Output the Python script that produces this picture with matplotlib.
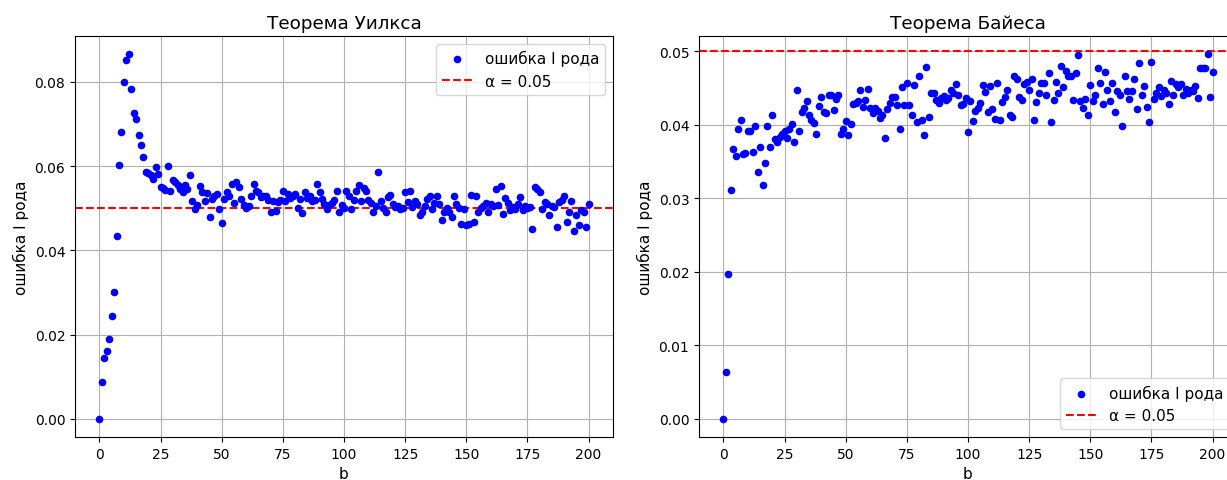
import numpy as np
import matplotlib
matplotlib.use("Agg")
import matplotlib.pyplot as plt

b_values = list(range(0, 201))

wilks_error = [
    0.0000, 0.0087, 0.0144, 0.0160, 0.0190, 0.0243, 0.0301, 0.0433, 0.0603, 0.0680,
    0.0799, 0.0851, 0.0866, 0.0783, 0.0726, 0.0713, 0.0673, 0.0649, 0.0621, 0.0587,
    0.0584, 0.0578, 0.0570, 0.0597, 0.0581, 0.0550, 0.0548, 0.0544, 0.0601, 0.0540,
    0.0566, 0.0562, 0.0556, 0.0546, 0.0538, 0.0555, 0.0545, 0.0579, 0.0518, 0.0497,
    0.0508, 0.0552, 0.0538, 0.0516, 0.0536, 0.0479, 0.0522, 0.0530, 0.0534, 0.0497,
    0.0465, 0.0522, 0.0538, 0.0530, 0.0558, 0.0513, 0.0563, 0.0550, 0.0521, 0.0508,
    0.0500, 0.0505, 0.0530, 0.0558, 0.0542, 0.0538, 0.0526, 0.0529, 0.0530, 0.0520,
    0.0492, 0.0518, 0.0494, 0.0514, 0.0520, 0.0542, 0.0516, 0.0534, 0.0525, 0.0530,
    0.0534, 0.0500, 0.0522, 0.0489, 0.0538, 0.0525, 0.0530, 0.0516, 0.0520, 0.0558,
    0.0538, 0.0522, 0.0510, 0.0498, 0.0508, 0.0512, 0.0520, 0.0540, 0.0492, 0.0508,
    0.0500, 0.0540, 0.0530, 0.0498, 0.0520, 0.0542, 0.0555, 0.0516, 0.0547, 0.0542,
    0.0520, 0.0513, 0.0490, 0.0505, 0.0587, 0.0516, 0.0500, 0.0490, 0.0526, 0.0532,
    0.0510, 0.0502, 0.0505, 0.0497, 0.0500, 0.0538, 0.0514, 0.0542, 0.0502, 0.0518,
    0.0510, 0.0484, 0.0492, 0.0505, 0.0522, 0.0530, 0.0499, 0.0512, 0.0530, 0.0510,
    0.0473, 0.0490, 0.0500, 0.0492, 0.0478, 0.0528, 0.0510, 0.0500, 0.0463, 0.0499,
    0.0460, 0.0463, 0.0532, 0.0467, 0.0528, 0.0490, 0.0500, 0.0506, 0.0513, 0.0492,
    0.0510, 0.0505, 0.0546, 0.0508, 0.0552, 0.0486, 0.0524, 0.0513, 0.0495, 0.0502,
    0.0498, 0.0510, 0.0526, 0.0495, 0.0506, 0.0500, 0.0503, 0.0451, 0.0550, 0.0545,
    0.0538, 0.0499, 0.0514, 0.0510, 0.0483, 0.0506, 0.0502, 0.0455, 0.0514, 0.0520,
    0.0528, 0.0467, 0.0492, 0.0518, 0.0445, 0.0483, 0.0459, 0.0495, 0.0492, 0.0455,
    0.0510,
]

bayes_error = [
    0.0000, 0.0063, 0.0197, 0.0311, 0.0367, 0.0357, 0.0395, 0.0407, 0.0361, 0.0362,
    0.0391, 0.0391, 0.0363, 0.0399, 0.0336, 0.0370, 0.0318, 0.0348, 0.0398, 0.0370,
    0.0413, 0.0381, 0.0376, 0.0384, 0.0388, 0.0391, 0.0382, 0.0394, 0.0401, 0.0376,
    0.0448, 0.0392, 0.0417, 0.0423, 0.0433, 0.0413, 0.0407, 0.0402, 0.0388, 0.0426,
    0.0438, 0.0418, 0.0416, 0.0440, 0.0440, 0.0420, 0.0435, 0.0441, 0.0388, 0.0395,
    0.0405, 0.0386, 0.0401, 0.0428, 0.0430, 0.0432, 0.0448, 0.0425, 0.0434, 0.0449,
    0.0423, 0.0416, 0.0423, 0.0419, 0.0409, 0.0414, 0.0382, 0.0421, 0.0430, 0.0438,
    0.0438, 0.0427, 0.0395, 0.0451, 0.0427, 0.0457, 0.0427, 0.0414, 0.0454, 0.0404,
    0.0467, 0.0407, 0.0386, 0.0479, 0.0411, 0.0443, 0.0443, 0.0434, 0.0430, 0.0437,
    0.0439, 0.0434, 0.0437, 0.0448, 0.0444, 0.0455, 0.0440, 0.0427, 0.0429, 0.0437,
    0.0390, 0.0432, 0.0405, 0.0419, 0.0423, 0.0430, 0.0454, 0.0445, 0.0418, 0.0453,
    0.0422, 0.0408, 0.0457, 0.0407, 0.0431, 0.0438, 0.0448, 0.0414, 0.0411, 0.0466,
    0.0463, 0.0438, 0.0434, 0.0455, 0.0458, 0.0447, 0.0463, 0.0407, 0.0431, 0.0444,
    0.0457, 0.0457, 0.0440, 0.0470, 0.0404, 0.0434, 0.0459, 0.0443, 0.0480, 0.0451,
    0.0473, 0.0467, 0.0467, 0.0434, 0.0470, 0.0495, 0.0433, 0.0423, 0.0435, 0.0414,
    0.0454, 0.0433, 0.0440, 0.0477, 0.0457, 0.0429, 0.0472, 0.0448, 0.0433, 0.0457,
    0.0418, 0.0446, 0.0440, 0.0399, 0.0466, 0.0446, 0.0435, 0.0446, 0.0463, 0.0422,
    0.0484, 0.0440, 0.0453, 0.0425, 0.0404, 0.0485, 0.0435, 0.0444, 0.0451, 0.0439,
    0.0448, 0.0444, 0.0429, 0.0460, 0.0441, 0.0456, 0.0451, 0.0455, 0.0441, 0.0449,
    0.0444, 0.0448, 0.0446, 0.0453, 0.0437, 0.0478, 0.0478, 0.0477, 0.0496, 0.0438,
    0.0472,
]

alpha = 0.05
titles = ["Теорема Уилкса", "Теорема Байеса"]
point_label = "ошибка I рода"
alpha_label = "α = 0.05"
y_label = "ошибка I рода"
x_label = "b"

plt.rcParams["font.size"] = 11
plt.rcParams["xtick.labelsize"] = 10
plt.rcParams["ytick.labelsize"] = 10

W, H = 1227, 481
fig = plt.figure(figsize=(W / 100, H / 100), dpi=100)
ax1 = fig.add_axes([75 / W, (H - 438) / H, 538 / W, 401 / H])
ax2 = fig.add_axes([699 / W, (H - 438) / H, 538 / W, 401 / H])

for ax, data, title, loc, ylim in [
    (ax1, wilks_error, titles[0], "upper right", (-0.00433, 0.0909)),
    (ax2, bayes_error, titles[1], "lower right", (-0.0025, 0.0521)),
]:
    ax.scatter(b_values, data, color="blue", s=20, label=point_label, zorder=3)
    ax.axhline(alpha, color="red", linestyle="--", label=alpha_label, zorder=2)
    ax.set_title(title)
    ax.set_xlabel(x_label)
    ax.set_ylabel(y_label)
    ax.set_xlim(-10, 210)
    ax.set_ylim(*ylim)
    ax.grid(True)
    ax.legend(loc=loc)

fig.savefig("out.png", dpi=100)
